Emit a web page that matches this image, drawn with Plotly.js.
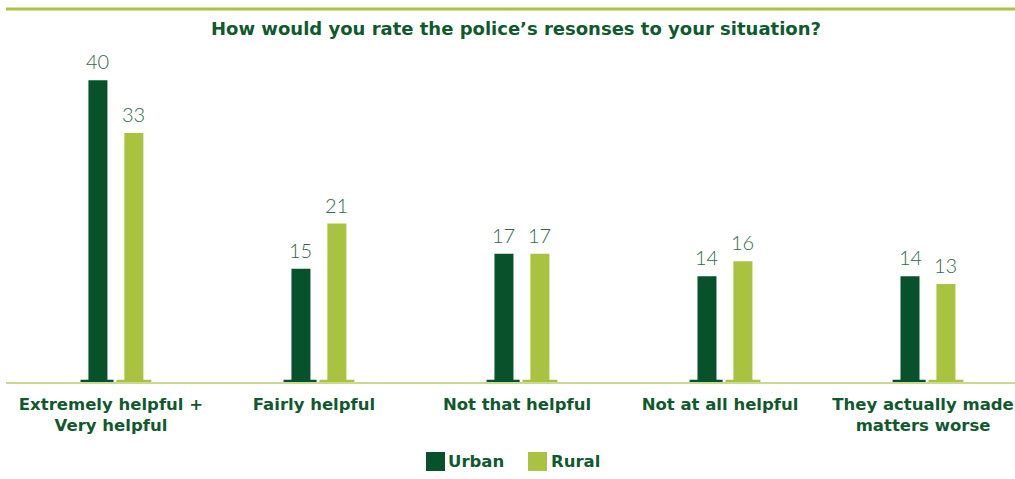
<!DOCTYPE html>
<html>
<head>
<meta charset="utf-8">
<script src="https://cdn.plot.ly/plotly-3.0.1.min.js"></script>
<style>
html,body{margin:0;padding:0;background:#fff;}
#chart{width:1015px;height:479px;}
</style>
</head>
<body>
<div id="chart"></div>
<script>
// ---- data ----
const categories = ["Extremely helpful +<br>Very helpful", "Fairly helpful", "Not that helpful", "Not at all helpful", "They actually made<br>matters worse"];
const seriesNames = ["Urban", "Rural"];
const urbanValues = [40, 15, 17, 14, 14];
const ruralValues = [33, 21, 17, 16, 13];
const chartTitle = "How would you rate the police’s resonses to your situation?";

// ---- styles ----
const DARK = "#07522a";
const LIGHT = "#a9c23f";
const TEXTGREEN = "#0f5a2d";
const VALUEGREEN = "#2e6c47";
const W = 1015, H = 479;
const L = 6, R = 0, T = 50, B = 97;
const PW = W - L - R, PH = H - T - B;
const px2x = px => (px - L) / PW;
const px2y = py => (H - B - py) / PH;

const barWidth = 0.0936;
const offsets = [-0.111, 0.066];
const stubWidth = [0.163, 0.172];
const stubOffsets = [-0.150, 0.027];
const stubH = 0.3;
const idx = categories.map((c, i) => i);

function barTrace(vals, name, color, offset) {
  return {
    type: "bar", x: idx, y: vals, name: name,
    marker: {color: color, line: {width: 0}},
    width: barWidth, offset: offset,
    showlegend: false, hoverinfo: "x+y"
  };
}
function stubTrace(color, offset, w) {
  return {
    type: "bar", x: idx, y: idx.map(() => stubH),
    marker: {color: color, line: {width: 0}},
    width: w, offset: offset, showlegend: false, hoverinfo: "skip"
  };
}

const data = [
  stubTrace(DARK, stubOffsets[0], stubWidth[0]),
  stubTrace(LIGHT, stubOffsets[1], stubWidth[1]),
  barTrace(urbanValues, seriesNames[0], DARK, offsets[0]),
  barTrace(ruralValues, seriesNames[1], LIGHT, offsets[1])
];

const FAMILY = "'DejaVu Sans', sans-serif";
const labelFont = {family: FAMILY, size: 16.5, weight: 700, color: TEXTGREEN};
const valueFont = {family: "Lato, 'Open Sans', sans-serif", size: 20, weight: 300, color: VALUEGREEN};

const valueAnnotations = [];
[urbanValues, ruralValues].forEach((vals, s) => {
  vals.forEach((v, i) => {
    valueAnnotations.push({
      xref: "x", yref: "y", x: i + offsets[s] + barWidth / 2, y: v,
      xanchor: "center", yanchor: "bottom", yshift: 5, showarrow: false,
      text: String(v), font: valueFont
    });
  });
});

const layout = {
  width: W, height: H,
  margin: {l: L, r: R, t: T, b: B, pad: 0},
  paper_bgcolor: "#fff", plot_bgcolor: "#fff",
  barmode: "overlay",
  showlegend: false,
  title: {text: "<b>" + chartTitle + "</b>", font: {family: FAMILY, size: 18, color: TEXTGREEN},
          xref: "container", x: 516/W, xanchor: "center", yref: "container", y: 1 - 29/H, yanchor: "middle"},
  xaxis: {
    range: [-0.517, 4.453], tickmode: "array", tickvals: idx, ticktext: categories.map(c => "<b>" + c + "</b>"),
    tickfont: labelFont, showgrid: false, zeroline: false, showline: true, linecolor: "#c9da8e", linewidth: 2,
    ticks: "", ticklabelstandoff: 6, fixedrange: true
  },
  yaxis: {range: [0, 44], visible: false, showgrid: false, zeroline: false, fixedrange: true},
  shapes: [
    {type: "line", xref: "paper", yref: "paper", x0: 0, x1: 1, y0: px2y(9), y1: px2y(9), line: {color: LIGHT, width: 3}},
    {type: "rect", xref: "paper", yref: "paper", x0: px2x(426), x1: px2x(445), y0: px2y(471), y1: px2y(452), fillcolor: DARK, line: {width: 0}},
    {type: "rect", xref: "paper", yref: "paper", x0: px2x(528), x1: px2x(547), y0: px2y(471), y1: px2y(452), fillcolor: LIGHT, line: {width: 0}}
  ],
  annotations: valueAnnotations.concat([
    {xref: "paper", yref: "paper", x: px2x(446), y: px2y(461.5), xanchor: "left", yanchor: "middle", showarrow: false,
     text: "<b>" + seriesNames[0] + "</b>", font: labelFont},
    {xref: "paper", yref: "paper", x: px2x(549), y: px2y(461.5), xanchor: "left", yanchor: "middle", showarrow: false,
     text: "<b>" + seriesNames[1] + "</b>", font: labelFont}
  ])
};

Plotly.newPlot("chart", data, layout, {displayModeBar: false, staticPlot: true});
</script>
</body>
</html>
